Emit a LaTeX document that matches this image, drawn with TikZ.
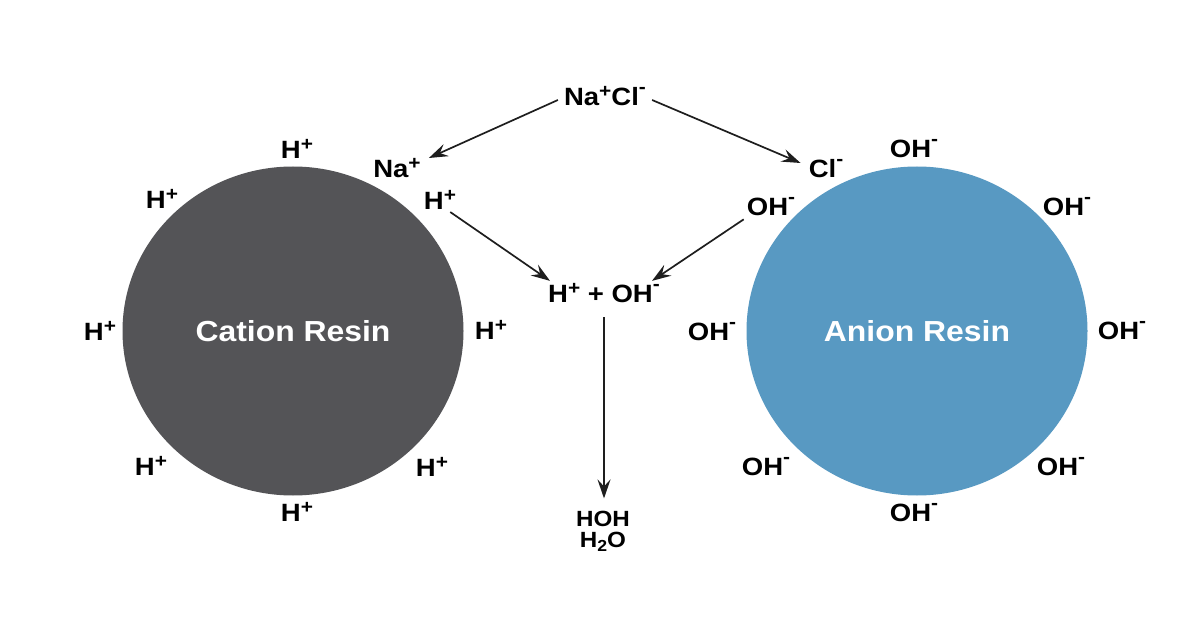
\documentclass[tikz,border=0pt]{standalone}
\usepackage{fontspec}
\setmainfont{Liberation Sans}[FakeStretch=1.1]
\usetikzlibrary{arrows.meta,shapes.geometric}
\definecolor{cationgray}{HTML}{545457}
\definecolor{anionblue}{HTML}{5899C2}
\definecolor{inkdark}{HTML}{1E1E1E}
\newcommand\ionplus{\raisebox{0.34em}{\fontsize{19}{19}\selectfont +}}
\newcommand\ionminus{\raisebox{0.48em}{\fontsize{19}{19}\selectfont -}}
\newcommand\subtwo{\raisebox{-0.2em}{\fontsize{16}{16}\selectfont 2}}
\begin{document}
\begin{tikzpicture}[x=1pt,y=-1pt,
  lbl/.style={inner sep=0pt, text=black, font=\fontsize{25}{21}\selectfont\bfseries},
  wlbl/.style={lbl, anchor=base, font=\fontsize{22}{20}\selectfont\bfseries},
  resin/.style={ellipse, inner sep=0pt, minimum width=341pt, minimum height=329pt, text=white, font=\fontsize{29}{30}\selectfont\bfseries},
  arr/.style={draw=inkdark, line width=1.7pt, -{Stealth[length=19pt,width=13pt,inset=7pt]}}
]
\fill[white] (0,0) rectangle (1200,628);
\useasboundingbox (0,0) rectangle (1200,628);

% resins
\node[resin, fill=cationgray] (cation) at (293,331) {Cation Resin};
\node[resin, fill=anionblue] (anion) at (917,331) {Anion Resin};

% cation side labels
\node[lbl] (h1) at (297,149) {H\ionplus};
\node[lbl] (na) at (397,168) {Na\ionplus};
\node[lbl] (hp) at (440,200) {H\ionplus};
\node[lbl] (h2) at (162,199) {H\ionplus};
\node[lbl] (h3) at (100,331) {H\ionplus};
\node[lbl] (h4) at (491,330) {H\ionplus};
\node[lbl] (h5) at (151,466) {H\ionplus};
\node[lbl] (h6) at (432,467) {H\ionplus};
\node[lbl] (h7) at (297,512) {H\ionplus};

% anion side labels
\node[lbl] (o1) at (914,149) {OH\ionminus};
\node[lbl] (cl) at (826,169) {Cl\ionminus};
\node[lbl] (ohm) at (771,207) {OH\ionminus};
\node[lbl] (o2) at (1067,207) {OH\ionminus};
\node[lbl] (o3) at (712,332) {OH\ionminus};
\node[lbl] (o4) at (1122,331) {OH\ionminus};
\node[lbl] (o5) at (766,467) {OH\ionminus};
\node[lbl] (o6) at (1061,467) {OH\ionminus};
\node[lbl] (o7) at (914,513) {OH\ionminus};

% centre labels
\node[lbl] (nacl) at (605,96) {Na\ionplus Cl\ionminus};
\node[lbl] (eq) at (604,293) {H\ionplus\ + OH\ionminus};
\node[wlbl] (hoh) at (603,526) {HOH};
\node[wlbl] (h2o) at (603,547) {H\subtwo O};

% arrows
\draw[arr] ([shift={(-6,4)}]nacl.west) -- ([shift={(8,-10)}]na.east);
\draw[arr] ([shift={(6,4)}]nacl.east) -- ([shift={(-8,-6)}]cl.west);
\draw[arr] ([shift={(-6,2)}]hp.south east) -- ([shift={(2,-2)}]eq.north west);
\draw[arr] ([shift={(-3,3)}]ohm.south west) -- ([shift={(-8,-2)}]eq.north east);
\draw[arr] ([shift={(0,14)}]eq.south) -- ([shift={(0,-12)}]eq.south |- hoh.north);
\end{tikzpicture}
\end{document}
